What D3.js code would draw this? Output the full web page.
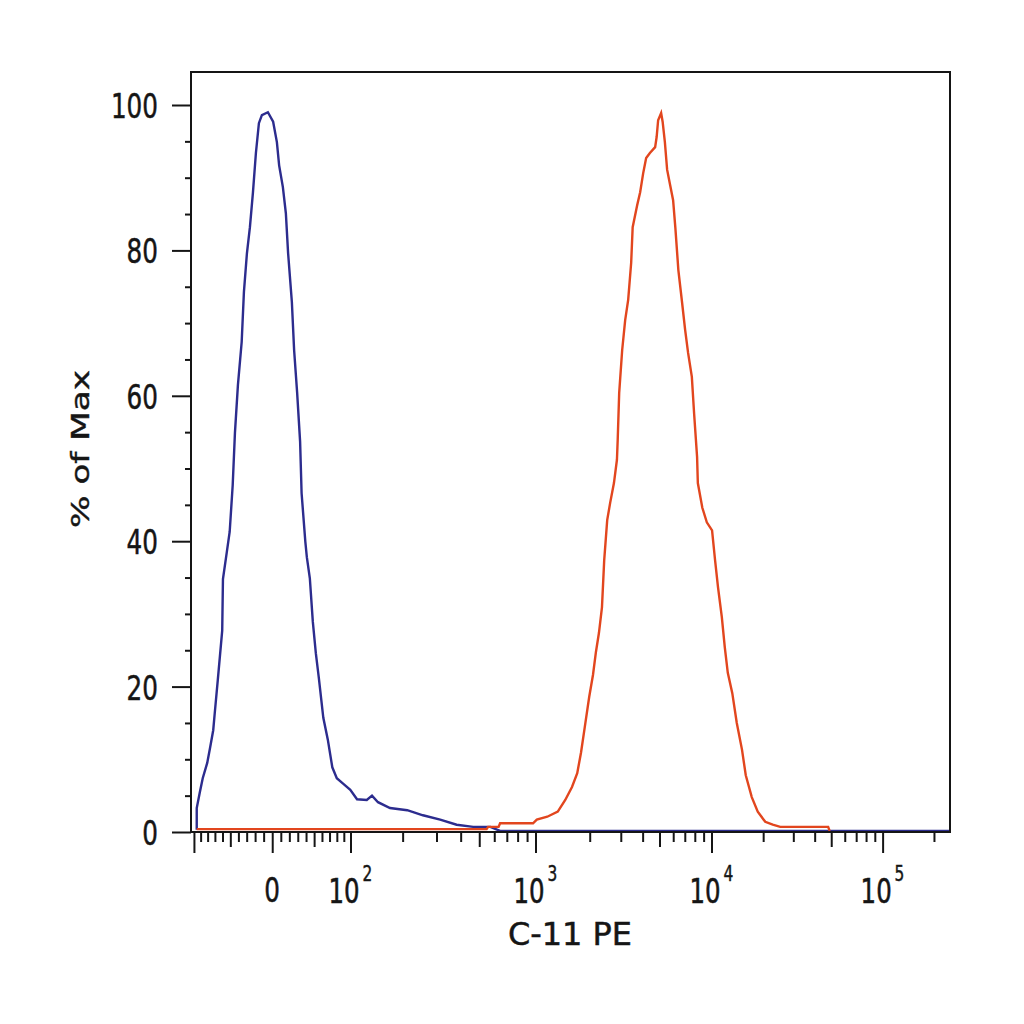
<!DOCTYPE html>
<html><head><meta charset="utf-8">
<script src="https://cdn.jsdelivr.net/npm/d3@7"></script>
<style>html,body{margin:0;padding:0;background:#fff}</style>
</head><body>
<svg id="c" width="1024" height="1024"></svg>
<script>
// ---------- data (x = display channel 0..1024 on the biexponential axis, y = % of Max) ----------
const xTitle = "C-11 PE";
const yTitle = "% of Max";
const yTickValues = [0, 20, 40, 60, 80, 100];
const xLabelValues = [0, 100, 1000, 10000, 100000];
const xLabelBase = ["0", "10", "10", "10", "10"];
const xLabelExp = ["", "2", "3", "4", "5"];

const blueChannel = [13,13,17,21,27,31,35,37,41,47,48,53,57,61,64,68,73,76,80,84,88,92,96,100,108,115,120,123,128,132,135,140,143,147,151,153,158,160,164,168,172,176,182,188,194,200,208,218,227,240,247,255,271,294,315,338,360,382,405,418,1019];
const bluePct     = [0.3,3.3,5.4,7.4,9.5,11.7,14.0,16.3,20.8,27.7,34.8,38.4,41.3,47.7,54.9,61.5,67.4,74.3,79.6,83.2,87.9,93.4,97.5,98.6,99.0,97.7,94.9,91.7,88.7,85.1,79.6,72.9,66.3,60.5,53.7,46.6,39.9,37.8,34.9,28.9,24.6,21.2,15.7,12.7,8.9,7.4,6.7,5.8,4.5,4.4,5.0,4.1,3.3,3.0,2.3,1.7,1.0,0.7,0.7,0.15,0.15];

const redChannel = [13,400,402,416,418,462,467,481,495,505,514,521,526,531,537,542,546,550,554,557,561,565,570,574,575,577,581,585,589,593,595,601,605,609,613,618,625,627,629,633,635,638,641,645,649,652,656,661,665,669,674,677,681,682,688,694,701,705,709,714,718,722,728,734,741,746,754,762,772,782,792,856,858];
const redPct     = [0.4,0.4,0.7,0.7,1.2,1.2,1.7,2.1,2.8,4.4,6.2,8.1,10.9,14.4,18.6,21.6,24.8,27.4,30.9,37.4,42.9,45.3,48.0,51.2,53.9,60.4,66.3,70.4,73.2,78.3,83.2,86.2,88.0,90.6,92.7,93.4,94.2,95.6,97.9,98.9,97.7,94.9,91.1,89.0,86.9,83.1,77.3,72.8,69.1,65.9,62.6,57.6,51.6,48.0,44.6,42.6,41.5,37.4,33.6,29.6,25.4,21.9,19.1,15.0,11.3,7.8,4.8,2.8,1.4,1.0,0.7,0.7,0.15];

// ---------- logicle (biexponential) transform ----------
function makeLogicle(T, W, M, A) {
  const w = W / (M + A), x2 = A / (M + A), x1 = x2 + w, x0 = x2 + 2 * w, b = (M + A) * Math.LN10;
  let lo = 1e-9, hi = b;
  for (let i = 0; i < 200; i++) {
    const mid = (lo + hi) / 2;
    const f = 2 * (Math.log(mid) - Math.log(b)) + w * (b + mid);
    if (f > 0) hi = mid; else lo = mid;
  }
  const d = (lo + hi) / 2;
  const ca = Math.exp(x0 * (b + d));
  const mfa = Math.exp(b * x1) - ca / Math.exp(d * x1);
  const a = T / ((Math.exp(b) - mfa) - ca / Math.exp(d));
  const c = ca * a, f = -mfa * a;
  function inverse(s) {
    let neg = s < x1;
    if (neg) s = 2 * x1 - s;
    const v = a * Math.exp(b * s) + f - c * Math.exp(-d * s);
    return neg ? -v : v;
  }
  function forward(v) {
    let l = -1, h = 1.5;
    for (let i = 0; i < 100; i++) {
      const m = (l + h) / 2;
      if (inverse(m) < v) l = m; else h = m;
    }
    return (l + h) / 2;
  }
  return forward;
}
const logicle = makeLogicle(262144, 0.5, 4.5, 0);
const toChannel = v => logicle(v) * 1024;

// ---------- layout ----------
const frame = {left: 191, right: 950, top: 72, bottom: 832};
const svg = d3.select("#c");
const x = d3.scaleLinear().domain([0, 1024]).range([187, 954]);
const y = d3.scaleLinear().domain([0, 100]).range([832, 105]);
const font = "'DejaVu Sans', Verdana, sans-serif";
const ink = "#151515";

svg.append("rect").attr("width", 1024).attr("height", 1024).attr("fill", "#fff");

svg.append("defs").append("clipPath").attr("id", "plotclip")
  .append("rect").attr("x", frame.left).attr("y", frame.top - 2)
  .attr("width", frame.right - frame.left).attr("height", frame.bottom - frame.top + 2);

function styleAxis(g) {
  g.select(".domain").remove();
  g.selectAll("line").attr("stroke", ink).attr("stroke-width", 2);
}
function styleText(sel, size) {
  sel.attr("font-family", font).attr("font-size", size).attr("fill", ink)
    .attr("stroke", ink).attr("stroke-width", 0.5).attr("lengthAdjust", "spacingAndGlyphs");
}

// y axis ticks
const yMinor = d3.range(0, 101, 5).filter(v => v % 20 !== 0);
svg.append("g").attr("transform", `translate(${frame.left},0)`)
  .call(d3.axisLeft(y).tickValues(yTickValues).tickSize(19).tickFormat("")).call(styleAxis);
svg.append("g").attr("transform", `translate(${frame.left},0)`)
  .call(d3.axisLeft(y).tickValues(yMinor).tickSize(6).tickFormat("")).call(styleAxis);

svg.append("g").selectAll("text").data(yTickValues).join("text")
  .attr("x", 158).attr("y", d => y(d) + 13)
  .attr("text-anchor", "end")
  .call(styleText, 33)
  .attr("textLength", d => String(d).length * 15.7)
  .text(d => d);

// x axis ticks (biexponential)
const tickVals = [];
for (let k = 1; k <= 10; k++) tickVals.push(-k * 10);
tickVals.push(0);
for (let n = 1; n <= 5; n++) for (let k = 1; k <= 9; k++) tickVals.push(k * Math.pow(10, n));
const inRange = v => { const px = x(toChannel(v)); return px >= frame.left && px <= frame.right + 1; };
const isLong = v => v === 0 || (Math.abs(v) >= 100 && Number.isInteger(Math.log10(Math.abs(v))));
const isMed = v => !isLong(v) && Math.abs(v) >= 50 && Number.isInteger(Math.log10(Math.abs(v) / 5));
const longT = tickVals.filter(v => inRange(v) && isLong(v)).map(toChannel);
const medT = tickVals.filter(v => inRange(v) && isMed(v)).map(toChannel);
const minT = tickVals.filter(v => inRange(v) && !isLong(v) && !isMed(v)).map(toChannel);
[[longT, 21], [medT, 15], [minT, 10]].forEach(([vals, len]) => {
  svg.append("g").attr("transform", `translate(0,${frame.bottom})`)
    .call(d3.axisBottom(x).tickValues(vals).tickSize(len).tickFormat("")).call(styleAxis);
});

// x tick labels (narrowed with horizontal scaling)
const xl = svg.append("g");
xLabelValues.forEach((v, i) => {
  const cx = x(toChannel(v));
  if (xLabelExp[i] === "") {
    xl.append("text").attr("x", cx).attr("y", 902).attr("text-anchor", "middle")
      .call(styleText, 34).attr("textLength", 15.7)
      .text(xLabelBase[i]);
  } else {
    const start = cx - 22;
    xl.append("text").attr("transform", `translate(${start},903) scale(0.72,1)`)
      .call(styleText, 34).attr("stroke-width", 0.6)
      .text(xLabelBase[i]);
    xl.append("text").attr("transform", `translate(${start + 34},881) scale(0.7,1)`)
      .call(styleText, 22).attr("stroke-width", 0.5)
      .text(xLabelExp[i]);
  }
});

// titles
svg.append("text").attr("x", 570).attr("y", 945).attr("text-anchor", "middle")
  .call(styleText, 32).attr("textLength", 124)
  .text(xTitle);
svg.append("text").attr("transform", "translate(89,449) rotate(-90)").attr("text-anchor", "middle")
  .call(styleText, 25).attr("stroke-width", 0.4).attr("textLength", 158)
  .text(yTitle);

// curves
const line = d3.line().x(d => x(d[0])).y(d => y(d[1]));
const blue = d3.zip(blueChannel, bluePct);
const red = d3.zip(redChannel, redPct);
const plot = svg.append("g").attr("clip-path", "url(#plotclip)");
plot.append("path").datum(blue).attr("d", line).attr("fill", "none")
  .attr("stroke", "#2c2c8e").attr("stroke-width", 2.4).attr("stroke-linejoin", "miter");
plot.append("path").datum(red).attr("d", line).attr("fill", "none")
  .attr("stroke", "#e2461e").attr("stroke-width", 2.4).attr("stroke-linejoin", "miter");

// frame
svg.append("rect").attr("x", frame.left).attr("y", frame.top)
  .attr("width", frame.right - frame.left).attr("height", frame.bottom - frame.top)
  .attr("fill", "none").attr("stroke", ink).attr("stroke-width", 2);
</script>
</body></html>
